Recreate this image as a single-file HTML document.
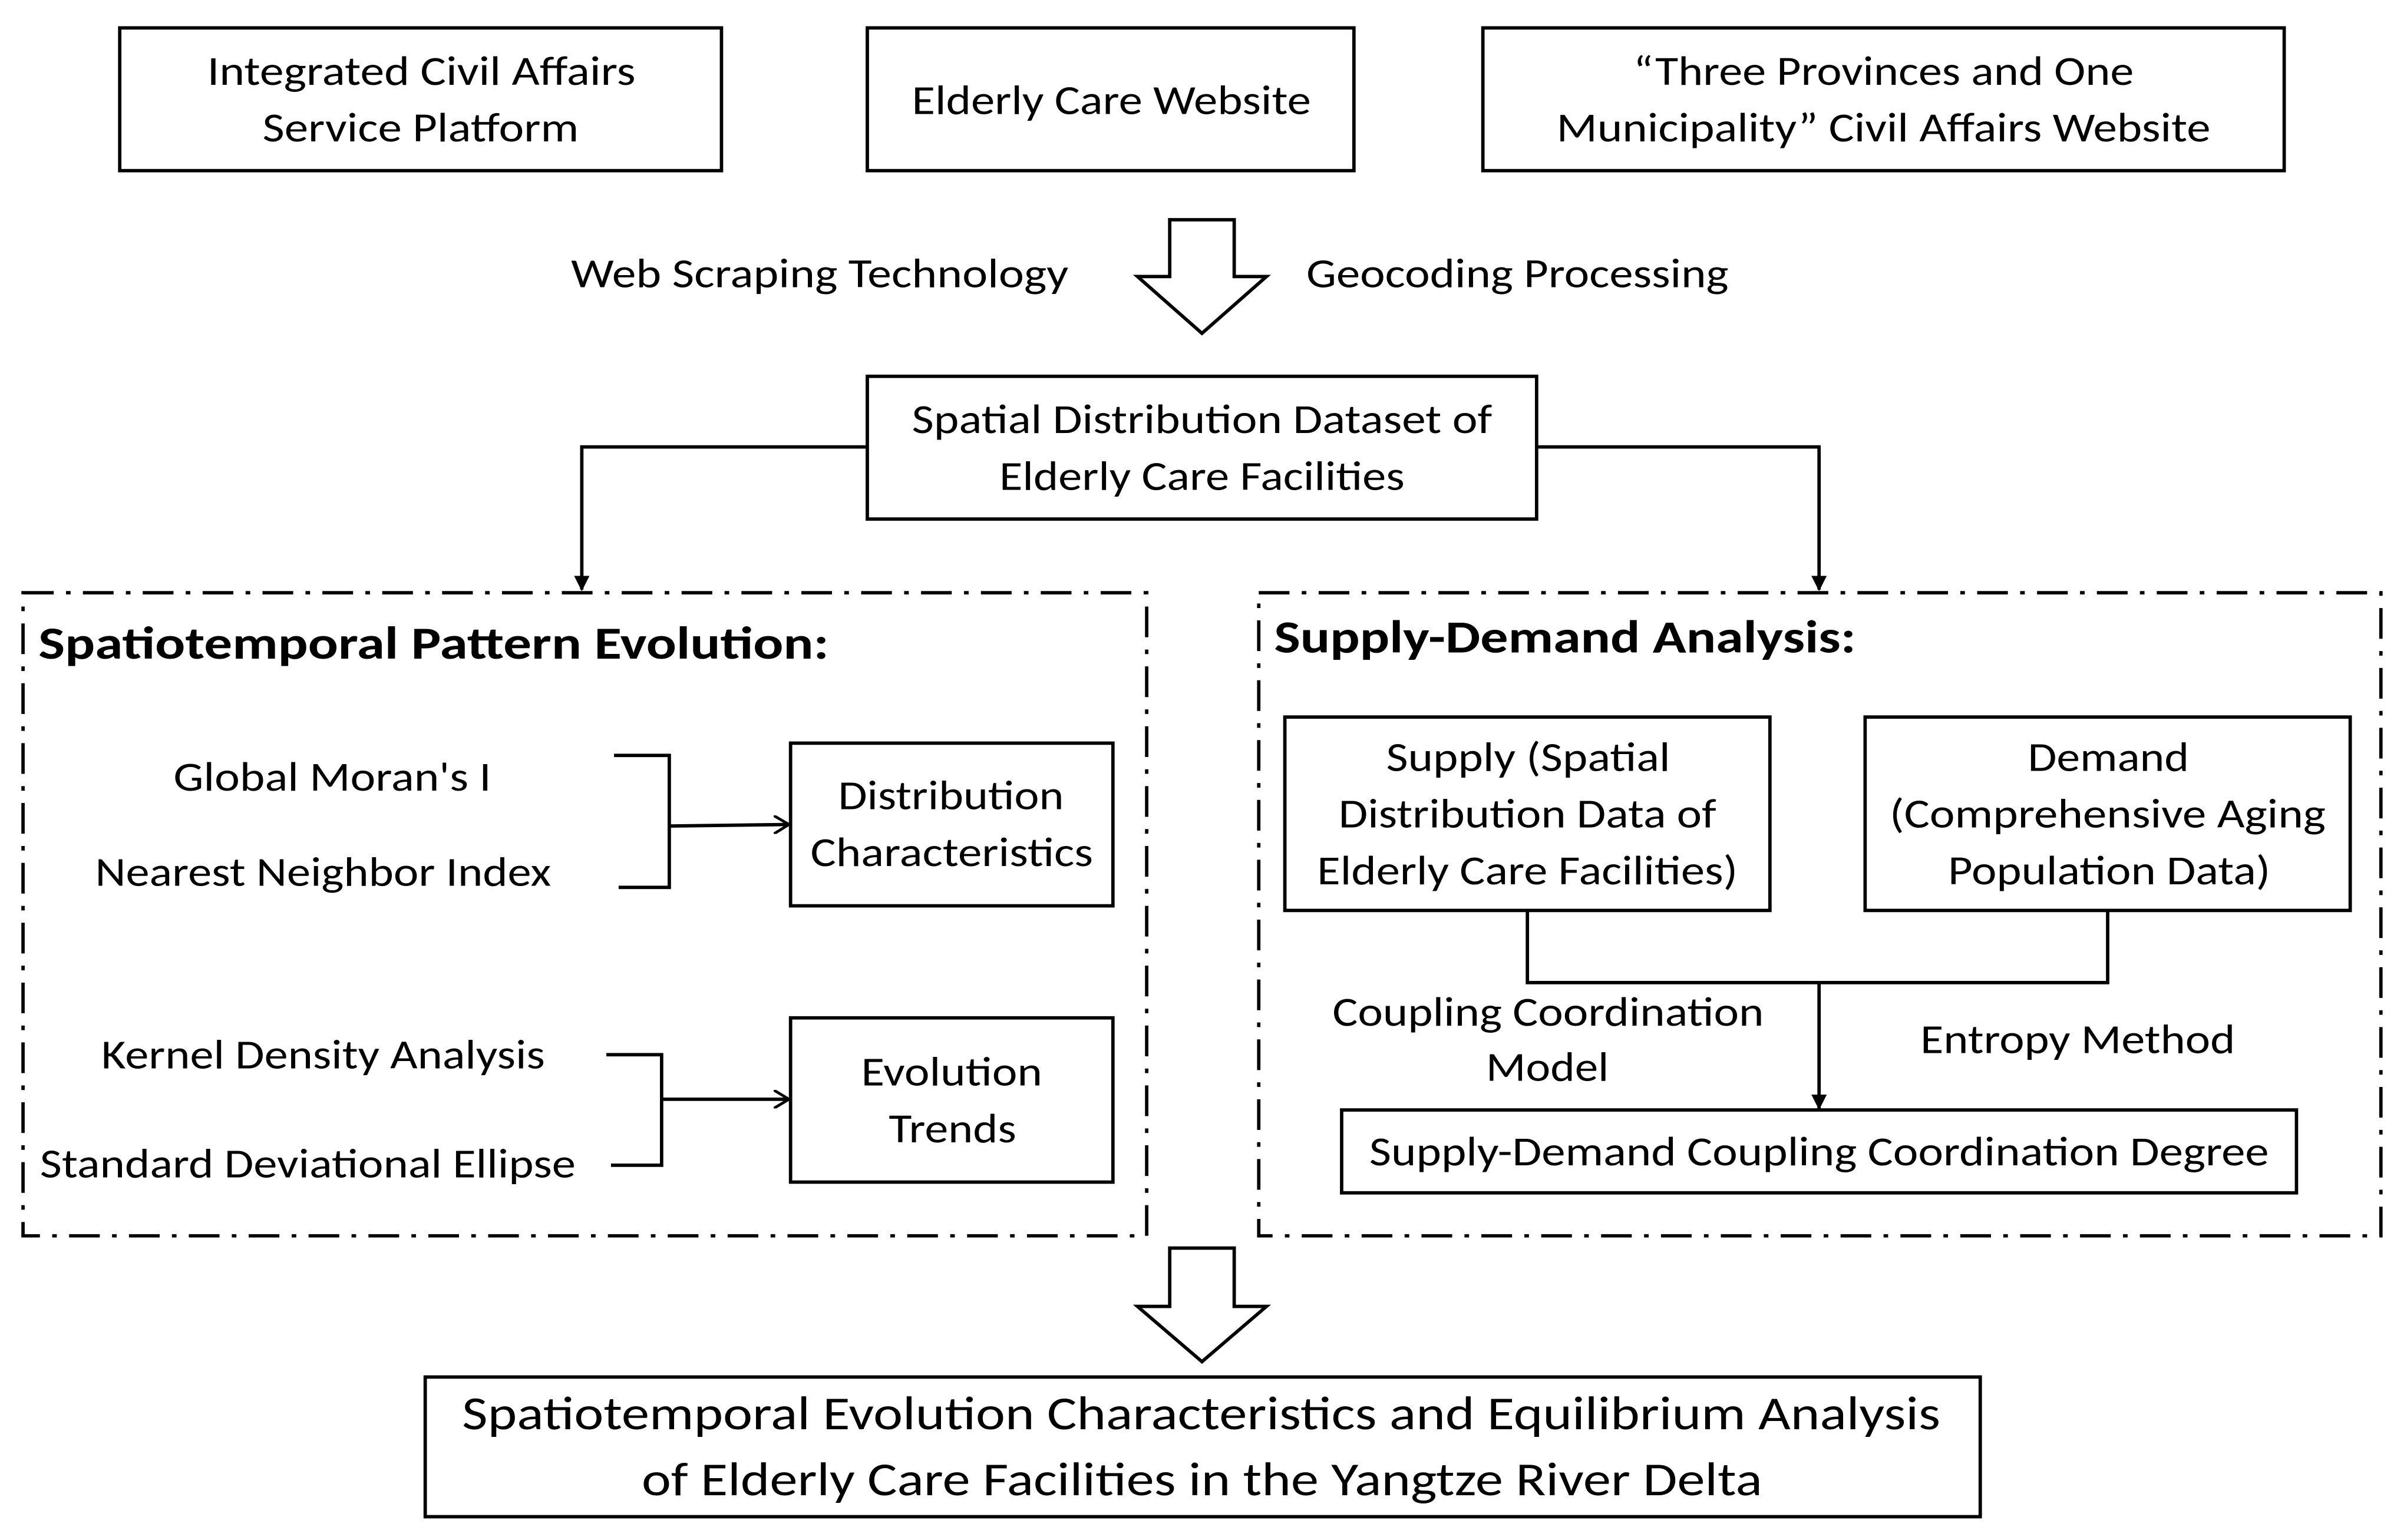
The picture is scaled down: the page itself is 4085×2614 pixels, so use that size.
<!DOCTYPE html>
<html><head><meta charset="utf-8"><style>
html,body{margin:0;padding:0;background:#fff}
svg{display:block}
text{font-family:Carlito,"Liberation Sans",sans-serif;fill:#000;font-size:27px}
</style></head><body>
<svg width="4085" height="2614" viewBox="0 0 1568 1003" xmlns="http://www.w3.org/2000/svg">
<defs><marker id="a" markerWidth="10" markerHeight="10" refX="9" refY="5" orient="auto" markerUnits="userSpaceOnUse"><path d="M0,0 L10,5 L0,10 z" fill="#000"/></marker>
<marker id="o" markerWidth="12" markerHeight="12" refX="10" refY="6" orient="auto" markerUnits="userSpaceOnUse"><path d="M0,0 L10,6 L0,12" fill="none" stroke="#000" stroke-width="1.8"/></marker></defs>
<g fill="none" stroke="#000" stroke-width="2.2">
<rect x="78" y="18" width="392" height="93"/>
<rect x="565" y="18" width="317" height="93"/>
<rect x="966" y="18" width="522" height="93"/>
<path d="M762,143 H804 V180 H825 L783,217 L741,180 H762 Z"/>
<rect x="565" y="245" width="436" height="93"/>
<rect x="515" y="484" width="210" height="106"/>
<rect x="515" y="663" width="210" height="107"/>
<rect x="837" y="467" width="316" height="126"/>
<rect x="1215" y="467" width="316" height="126"/>
<rect x="874" y="723" width="622" height="54"/>
<path d="M762,813 H804 V851 H825 L783,887 L741,851 H762 Z"/>
<rect x="277" y="897" width="1013" height="91"/>
<path d="M400,492 H436 V578 H403"/>
<path d="M395,687 H431 V759 H398"/>
<path d="M995,593 V640 H1373 V593"/>
</g>
<g fill="none" stroke="#000" stroke-width="2.2" stroke-dasharray="20,8,3,8">
<rect x="15" y="386" width="732" height="419"/>
<rect x="820" y="386" width="731" height="419"/>
</g>
<g fill="none" stroke="#000" stroke-width="2.2">
<path d="M565,291 H379 V384" marker-end="url(#a)"/>
<path d="M1001,291 H1185 V384" marker-end="url(#a)"/>
<path d="M1185,640 V722" marker-end="url(#a)"/>
<path d="M436,538 L514,537" marker-end="url(#o)"/>
<path d="M431,716 L514,716" marker-end="url(#o)"/>
</g>
<g lengthAdjust="spacingAndGlyphs">
<text x="135" y="55" textLength="279" lengthAdjust="spacingAndGlyphs">Integrated Civil Affairs</text>
<text x="171" y="92" textLength="206" lengthAdjust="spacingAndGlyphs">Service Platform</text>
<text x="594" y="74" textLength="260" lengthAdjust="spacingAndGlyphs">Elderly Care Website</text>
<text x="1064" y="55" textLength="326" lengthAdjust="spacingAndGlyphs">“Three Provinces and One</text>
<text x="1014" y="92" textLength="426" lengthAdjust="spacingAndGlyphs">Municipality” Civil Affairs Website</text>
<text x="372" y="187" textLength="324" lengthAdjust="spacingAndGlyphs">Web Scraping Technology</text>
<text x="851" y="187" textLength="275" lengthAdjust="spacingAndGlyphs">Geocoding Processing</text>
<text x="594" y="282" textLength="378" lengthAdjust="spacingAndGlyphs">Spatial Distribution Dataset of</text>
<text x="651" y="319" textLength="264" lengthAdjust="spacingAndGlyphs">Elderly Care Facilities</text>
<text x="113" y="515" textLength="207" lengthAdjust="spacingAndGlyphs">Global Moran's I</text>
<text x="62" y="577" textLength="297" lengthAdjust="spacingAndGlyphs">Nearest Neighbor Index</text>
<text x="546" y="527" textLength="147" lengthAdjust="spacingAndGlyphs">Distribution</text>
<text x="528" y="564" textLength="184" lengthAdjust="spacingAndGlyphs">Characteristics</text>
<text x="66" y="696" textLength="289" lengthAdjust="spacingAndGlyphs">Kernel Density Analysis</text>
<text x="26" y="767" textLength="349" lengthAdjust="spacingAndGlyphs">Standard Deviational Ellipse</text>
<text x="561" y="707" textLength="118" lengthAdjust="spacingAndGlyphs">Evolution</text>
<text x="579" y="744" textLength="83" lengthAdjust="spacingAndGlyphs">Trends</text>
<text x="903" y="502" textLength="185" lengthAdjust="spacingAndGlyphs">Supply (Spatial</text>
<text x="872" y="539" textLength="246" lengthAdjust="spacingAndGlyphs">Distribution Data of</text>
<text x="858" y="576" textLength="274" lengthAdjust="spacingAndGlyphs">Elderly Care Facilities)</text>
<text x="1321" y="502" textLength="105" lengthAdjust="spacingAndGlyphs">Demand</text>
<text x="1231" y="539" textLength="284" lengthAdjust="spacingAndGlyphs">(Comprehensive Aging</text>
<text x="1269" y="576" textLength="210" lengthAdjust="spacingAndGlyphs">Population Data)</text>
<text x="868" y="668" textLength="281" lengthAdjust="spacingAndGlyphs">Coupling Coordination</text>
<text x="968" y="704" textLength="80" lengthAdjust="spacingAndGlyphs">Model</text>
<text x="1251" y="686" textLength="205" lengthAdjust="spacingAndGlyphs">Entropy Method</text>
<text x="892" y="759" textLength="586" lengthAdjust="spacingAndGlyphs">Supply-Demand Coupling Coordination Degree</text>
<text x="301" y="931" textLength="963" lengthAdjust="spacingAndGlyphs" style="font-size:31px">Spatiotemporal Evolution Characteristics and Equilibrium Analysis</text>
<text x="418" y="974" textLength="730" lengthAdjust="spacingAndGlyphs" style="font-size:31px">of Elderly Care Facilities in the Yangtze River Delta</text>
<text x="25" y="429" textLength="515" lengthAdjust="spacingAndGlyphs" style="font-size:30px;font-weight:bold">Spatiotemporal Pattern Evolution:</text>
<text x="830" y="425" textLength="379" lengthAdjust="spacingAndGlyphs" style="font-size:30px;font-weight:bold">Supply-Demand Analysis:</text>
</g>
</svg>
</body></html>
